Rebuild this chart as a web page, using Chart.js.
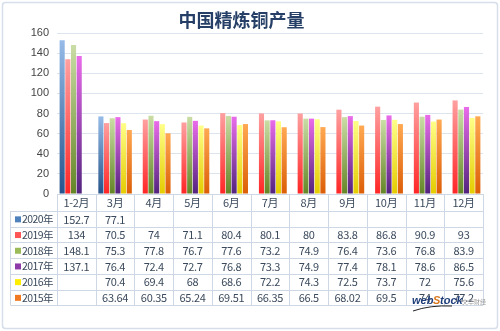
<!DOCTYPE html>
<html>
<head>
<meta charset="utf-8">
<script src="https://cdn.jsdelivr.net/npm/chart.js@4.4.1/dist/chart.umd.min.js"></script>
<style>
html,body{margin:0;padding:0;background:#fff;}
#wrap{position:relative;width:500px;height:331px;}
</style>
</head>
<body>
<div id="wrap"><canvas id="c" width="500" height="331"></canvas></div>
<script>
const title = '中国精炼铜产量';
const categories = ['1-2月','3月','4月','5月','6月','7月','8月','9月','10月','11月','12月'];
const seriesNames = ['2020年','2019年','2018年','2017年','2016年','2015年'];
const y2020 = [152.7, 77.1, null, null, null, null, null, null, null, null, null];
const y2019 = [134, 70.5, 74, 71.1, 80.4, 80.1, 80, 83.8, 86.8, 90.9, 93];
const y2018 = [148.1, 75.3, 77.8, 76.7, 77.6, 73.2, 74.9, 76.4, 73.6, 76.8, 83.9];
const y2017 = [137.1, 76.4, 72.4, 72.7, 76.8, 73.3, 74.9, 77.4, 78.1, 78.6, 86.5];
const y2016 = [null, 70.4, 69.4, 68, 68.6, 72.2, 74.3, 72.5, 73.7, 72, 75.6];
const y2015 = [null, 63.64, 60.35, 65.24, 69.51, 66.35, 66.5, 68.02, 69.5, 74, 77.2];
const yTicks = [0, 20, 40, 60, 80, 100, 120, 140, 160];

const seriesData = [y2020, y2019, y2018, y2017, y2016, y2015];
const gradTop = ['#96BBE8', '#FFA0A0', '#CADDA6', '#EA6CEA', '#FFFF88', '#FFA952'];
const gradBot = ['#26548C', '#FF2626', '#648626', '#52247E', '#E4CC00', '#DC5E06'];
const keyColor = ['#4F81BD', '#FF5555', '#9BBB59', '#8E3AA8', '#FFEE00', '#F07A22'];
const tableFont = '"Noto Sans CJK SC", "Liberation Sans", sans-serif';

const datasets = seriesNames.map((n, i) => ({
  label: n,
  data: seriesData[i],
  backgroundColor: keyColor[i],
  borderWidth: 0,
  categoryPercentage: 0.88,
  barPercentage: 0.9
}));

const gradientPlugin = {
  id: 'barGradient',
  beforeDatasetsDraw(chart) {
    const c = chart.ctx;
    chart.data.datasets.forEach((ds, i) => {
      const meta = chart.getDatasetMeta(i);
      meta.data.forEach((el) => {
        if (!el || !isFinite(el.y) || !isFinite(el.base) || el.y === el.base) return;
        const g = c.createLinearGradient(0, el.y, 0, el.base);
        g.addColorStop(0, gradTop[i]);
        g.addColorStop(1, gradBot[i]);
        el.options = Object.assign({}, el.options, { backgroundColor: g });
      });
    });
  }
};

const framePlugin = {
  id: 'frame',
  beforeDraw(chart) {
    const c = chart.ctx;
    c.save();
    c.fillStyle = '#ffffff';
    c.fillRect(0, 0, chart.width, chart.height);
    c.strokeStyle = '#D5DEE9';
    c.lineWidth = 1.5;
    c.beginPath();
    c.roundRect(2.5, 2.5, 495, 326, 3);
    c.stroke();
    c.restore();
  }
};

const tablePlugin = {
  id: 'dataTable',
  afterDraw(chart) {
    const c = chart.ctx;
    const xs = chart.scales.x;
    const area = chart.chartArea;
    const left = area.left, right = area.right;
    const n = categories.length;
    const cw = (right - left) / n;
    const headTop = area.bottom;
    const rowTop = headTop + 17;
    const rowH = 15.7;
    const legLeft = 10.5;
    const nRows = seriesNames.length;
    const bottom = rowTop + rowH * nRows;
    c.save();
    c.strokeStyle = '#CDD8E4';
    c.lineWidth = 1;
    c.beginPath();
    c.moveTo(left, Math.round(headTop) + 0.5);
    c.lineTo(right, Math.round(headTop) + 0.5);
    c.stroke();
    for (let k = 0; k <= n; k++) {
      const x = Math.round(left + k * cw) + 0.5;
      c.beginPath();
      c.moveTo(x, headTop);
      c.lineTo(x, bottom);
      c.stroke();
    }
    c.beginPath();
    c.moveTo(legLeft, rowTop);
    c.lineTo(legLeft, bottom);
    c.stroke();
    for (let r = 0; r <= nRows; r++) {
      const y = Math.round(rowTop + r * rowH) + 0.5;
      c.beginPath();
      c.moveTo(legLeft, y);
      c.lineTo(right, y);
      c.stroke();
    }
    c.fillStyle = '#3B4A5C';
    c.font = '11px ' + tableFont;
    if ('letterSpacing' in c) c.letterSpacing = '-0.3px';
    c.textAlign = 'center';
    c.textBaseline = 'middle';
    categories.forEach((cat, k) => {
      c.fillText(cat, xs.getPixelForValue(k), headTop + 9);
    });
    seriesNames.forEach((name, r) => {
      const yc = rowTop + r * rowH + rowH / 2 + 0.5;
      c.fillStyle = keyColor[r];
      c.fillRect(15, yc - 3, 6, 6);
      c.fillStyle = '#3B4A5C';
      c.textAlign = 'left';
      c.font = '10.5px ' + tableFont;
      if ('letterSpacing' in c) c.letterSpacing = '-0.6px';
      c.fillText(name, 22, yc);
      c.font = '11px ' + tableFont;
      if ('letterSpacing' in c) c.letterSpacing = '-0.3px';
      c.textAlign = 'center';
      seriesData[r].forEach((v, k) => {
        if (v == null) return;
        c.fillText(String(v), xs.getPixelForValue(k), yc);
      });
    });
    if ('letterSpacing' in c) c.letterSpacing = '0px';
    c.textAlign = 'left';
    c.font = 'italic bold 11px "Liberation Sans", sans-serif';
    c.fillStyle = '#1F3E7A';
    c.fillText('web', 412, 301);
    c.fillStyle = '#D8781E';
    c.fillText('S', 433, 301);
    c.fillStyle = '#1F3E7A';
    c.fillText('tock', 440, 301);
    c.font = '6px ' + tableFont;
    c.fillStyle = '#9A9A9A';
    c.fillText('文华财经', 462, 302);
    c.strokeStyle = '#222';
    c.lineWidth = 1;
    c.beginPath();
    c.moveTo(413, 311);
    c.quadraticCurveTo(430, 305, 452, 306);
    c.stroke();
    c.restore();
  }
};

new Chart(document.getElementById('c'), {
  type: 'bar',
  data: { labels: categories, datasets: datasets },
  options: {
    responsive: false,
    animation: false,
    layout: { padding: { left: 0, right: 17, top: 0, bottom: 137 } },
    plugins: {
      legend: { display: false },
      tooltip: { enabled: false },
      title: {
        display: true,
        text: title,
        color: '#253F66',
        font: { size: 18, weight: 'bold', family: '"Noto Sans CJK SC", sans-serif' },
        padding: { top: 9, bottom: 2.4 }
      }
    },
    scales: {
      x: { display: false, offset: true },
      y: {
        min: 0, max: 160,
        afterBuildTicks(s) { s.ticks = yTicks.map(v => ({ value: v })); },
        afterFit(s) { s.width = 57; },
        ticks: { color: '#444', padding: 8, font: { size: 11, family: '"Liberation Sans", sans-serif' } },
        grid: { color: '#DCE4ED', drawTicks: false },
        border: { display: false }
      }
    }
  },
  plugins: [framePlugin, gradientPlugin, tablePlugin]
});
</script>
</body>
</html>
